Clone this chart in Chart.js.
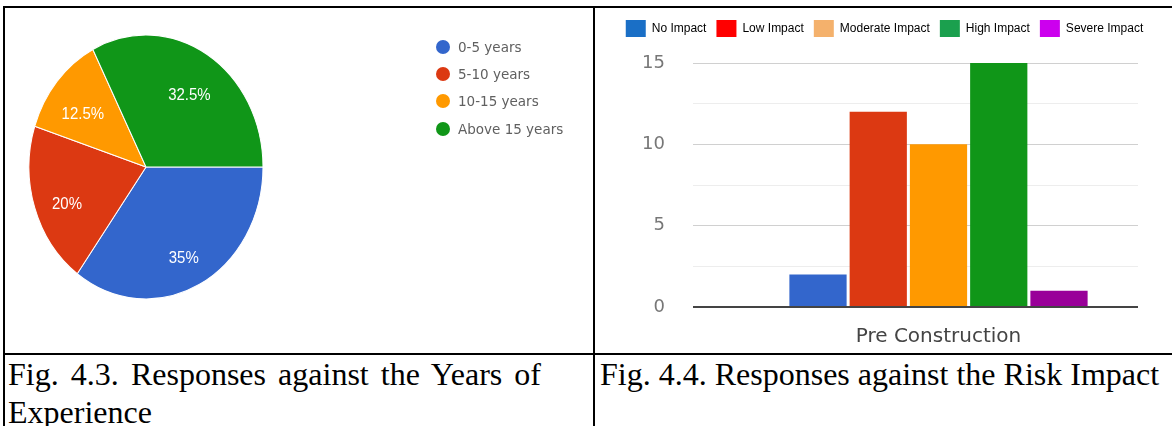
<!DOCTYPE html>
<html>
<head>
<meta charset="utf-8">
<script src="https://cdn.jsdelivr.net/npm/chart.js@4.4.1/dist/chart.umd.min.js"></script>
<style>
  html, body { margin: 0; padding: 0; background: #fff; }
  body { width: 1172px; height: 426px; position: relative; overflow: hidden;
         font-family: "Liberation Serif", "Times New Roman", serif; }
  .rule { position: absolute; background: #000; }
  #pieBox { position: absolute; left: 5px; top: 8px; width: 588px; height: 346px; }
  #barBox { position: absolute; left: 595px; top: 8px; width: 577px; height: 345px; }
  .cap { position: absolute; top: 355px; font-size: 32px; line-height: 38px; color: #000; }
  #pieLegend { position: absolute; left: 436px; top: 33px;
               font-family: "DejaVu Sans", sans-serif; font-size: 13.5px; color: #606060; }
  .li { height: 27.3px; display: flex; align-items: center; }
  .dot { width: 14px; height: 14px; border-radius: 50%; margin-right: 8px; }
</style>
</head>
<body>
<div class="rule" style="left:3px;top:6px;width:1169px;height:2px"></div>
<div class="rule" style="left:3px;top:6px;width:2px;height:420px"></div>
<div class="rule" style="left:593px;top:6px;width:2px;height:420px"></div>
<div class="rule" style="left:3px;top:353px;width:1169px;height:2px"></div>

<div id="pieBox"><canvas id="pie" width="588" height="346"></canvas></div>
<div id="pieLegend"></div>
<div id="barBox"><canvas id="bar" width="577" height="345"></canvas></div>

<div class="cap" style="left:8px;width:533px;text-align:justify">Fig. 4.3. Responses against the Years of Experience</div>
<div class="cap" style="left:600px;width:570px">Fig. 4.4. Responses against the Risk Impact</div>

<script>
// Years of experience (share of respondents, %)
const experienceLabels = ['0-5 years', '5-10 years', '10-15 years', 'Above 15 years'];
const experienceShares = [35, 20, 12.5, 32.5];
const experienceColors = ['#3366cc', '#dc3912', '#ff9900', '#109618'];

// Risk impact responses, pre-construction stage
const stageLabels = ['Pre Construction'];
const impactLabels = ['No Impact', 'Low Impact', 'Moderate Impact', 'High Impact', 'Severe Impact'];
const impactCounts = [2, 12, 10, 15, 1];
const impactBarColors = ['#3366cc', '#dc3912', '#ff9900', '#109618', '#990099'];
const impactKeyColors = ['#1a6fc6', '#ff0000', '#f4b16c', '#1ba04e', '#cc00ee'];
const yTickValues = [0, 5, 10, 15];

Chart.defaults.font.family = "'Liberation Sans', Arial, sans-serif";
Chart.defaults.animation = false;

// ---------- Pie: years of experience ----------
const PIE_STRETCH = 132 / 117; // the pie is drawn as a tall ellipse

const ellipsePie = {
  id: 'ellipsePie',
  beforeDatasetsDraw(chart) {
    const arc = chart.getDatasetMeta(0).data[0];
    const ctx = chart.ctx;
    ctx.save();
    ctx.translate(arc.x, arc.y);
    ctx.scale(1, PIE_STRETCH);
    ctx.translate(-arc.x, -arc.y);
  },
  afterDatasetsDraw(chart) {
    const ctx = chart.ctx;
    const meta = chart.getDatasetMeta(0);
    ctx.fillStyle = '#ffffff';
    ctx.font = "15px 'Liberation Sans', Arial, sans-serif";
    ctx.textAlign = 'center';
    ctx.textBaseline = 'middle';
    meta.data.forEach((arc, i) => {
      const p = arc.getProps(['x', 'y', 'startAngle', 'endAngle', 'outerRadius'], true);
      const mid = (p.startAngle + p.endAngle) / 2;
      const r = p.outerRadius * 0.71;
      ctx.fillText(experienceShares[i] + '%', p.x + Math.cos(mid) * r, p.y + Math.sin(mid) * r + 7);
    });
    ctx.restore();
  }
};

new Chart(document.getElementById('pie'), {
  type: 'pie',
  data: {
    labels: experienceLabels,
    datasets: [{
      data: experienceShares,
      backgroundColor: experienceColors,
      borderColor: '#ffffff',
      borderWidth: 1,
      radius: 117
    }]
  },
  options: {
    responsive: false,
    rotation: 90,
    layout: { padding: { left: 0, top: 0, right: 306, bottom: 28 } },
    plugins: { legend: { display: false }, tooltip: { enabled: false } }
  },
  plugins: [ellipsePie]
});

// HTML key for the pie
const pieLegend = document.getElementById('pieLegend');
experienceLabels.forEach((label, i) => {
  const row = document.createElement('div');
  row.className = 'li';
  const dot = document.createElement('span');
  dot.className = 'dot';
  dot.style.background = experienceColors[i];
  const txt = document.createElement('span');
  txt.textContent = label;
  row.appendChild(dot);
  row.appendChild(txt);
  pieLegend.appendChild(row);
});

// ---------- Bars: risk impact ----------
// Taller legend block (gap above the plot) and key centred over the whole panel
const legendPlacement = {
  id: 'legendPlacement',
  beforeInit(chart) {
    const fit = chart.legend.fit;
    chart.legend.fit = function () {
      fit.bind(chart.legend)();
      this.height = 53;
    };
  },
  afterLayout(chart) {
    chart.legend.left += 18;
    chart.legend.right += 18;
  }
};

const gridColor = (ctx) => {
  const v = ctx.tick ? ctx.tick.value : 1;
  if (v === 0) return '#444444';
  return yTickValues.includes(v) ? '#d0d0d0' : '#ededed';
};

new Chart(document.getElementById('bar'), {
  type: 'bar',
  data: {
    labels: stageLabels,
    datasets: impactLabels.map((label, i) => ({
      label: label,
      data: [impactCounts[i]],
      backgroundColor: impactBarColors[i],
      categoryPercentage: 0.755,
      barPercentage: 0.95
    }))
  },
  options: {
    responsive: false,
    layout: { padding: { left: 0, top: 2, right: 34, bottom: 0 } },
    plugins: {
      tooltip: { enabled: false },
      legend: {
        position: 'top',
        labels: {
          boxWidth: 20,
          boxHeight: 17,
          padding: 10,
          color: '#444',
          font: { size: 12 },
          generateLabels: () => impactLabels.map((t, i) => ({
            text: t,
            fillStyle: impactKeyColors[i],
            strokeStyle: impactKeyColors[i],
            lineWidth: 0,
            hidden: false,
            datasetIndex: i
          }))
        }
      }
    },
    scales: {
      x: {
        grid: { display: false },
        border: { display: false },
        ticks: { color: '#444', font: { size: 20, family: "'DejaVu Sans', sans-serif" }, padding: 10 },
        afterFit: (s) => { s.height = 46; }
      },
      y: {
        min: 0,
        max: 15,
        ticks: {
          stepSize: 2.5,
          color: '#777',
          font: { size: 18, family: "'DejaVu Sans', sans-serif" },
          padding: 28,
          callback: (v) => (yTickValues.includes(v) ? v : '')
        },
        grid: {
          color: gridColor,
          lineWidth: (ctx) => (ctx.tick && ctx.tick.value === 0 ? 2 : 1),
          drawTicks: true,
          tickLength: 46
        },
        border: { display: false },
        afterFit: (s) => { s.width = 144; }
      }
    }
  },
  plugins: [legendPlacement]
});
</script>
</body>
</html>
